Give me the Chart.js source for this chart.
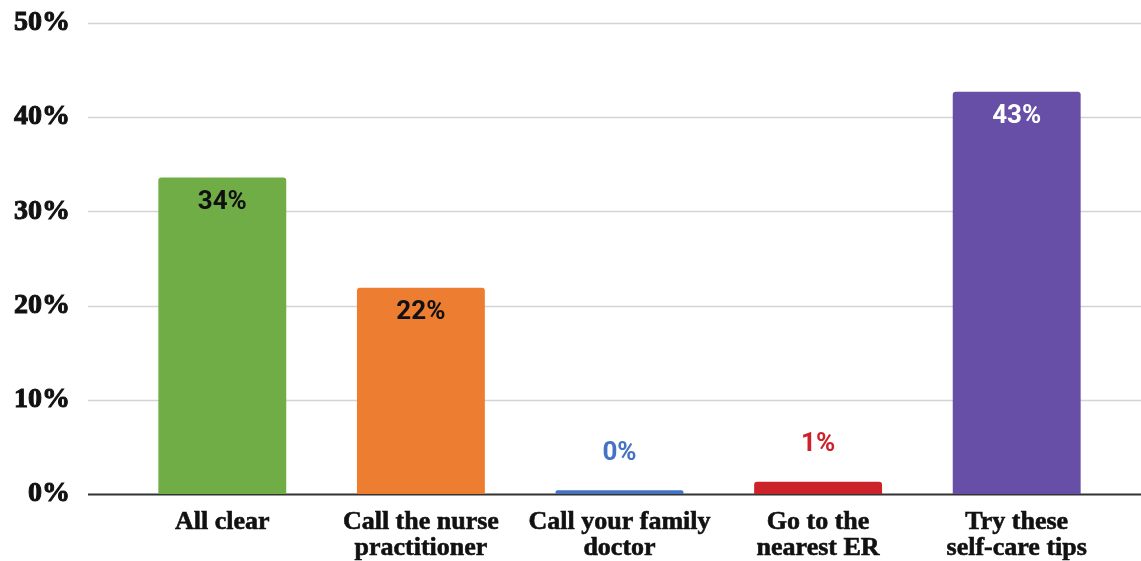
<!DOCTYPE html>
<html>
<head>
<meta charset="utf-8">
<script src="https://cdn.jsdelivr.net/npm/chart.js@4"></script>
<style>
  html, body { margin: 0; padding: 0; background: #fff; }
  #wrap { width: 1141px; height: 561px; position: relative; }
</style>
</head>
<body>
<div id="wrap"><canvas id="chart"></canvas></div>
<script>
// data
const categories = [
  ["All clear"],
  ["Call the nurse", "practitioner"],
  ["Call your family", "doctor"],
  ["Go to the", "nearest ER"],
  ["Try these", "self-care tips"],
];
const shares = [33.6, 21.9, 0.4, 1.3, 42.7];
const barColors = ["#70ad47", "#ed7d31", "#4472c4", "#cc2229", "#674ea7"];
const insideLabelColors = ["#111111", "#111111", null, null, "#ffffff"];
const yTicks = [0, 10, 20, 30, 40, 50];

// grid lines run wider than the category band, so draw them here
const wideGrid = {
  id: "wideGrid",
  beforeDatasetsDraw(chart) {
    const { ctx, scales: { y } } = chart;
    ctx.save();
    yTicks.forEach((t) => {
      const py = Math.round(y.getPixelForValue(t)) + 0.5;
      ctx.beginPath();
      ctx.moveTo(88, py);
      ctx.lineTo(chart.width, py);
      ctx.lineWidth = t === 0 ? 2 : 1.5;
      ctx.strokeStyle = t === 0 ? "#333333" : "#d4d4d4";
      ctx.stroke();
    });
    ctx.restore();
  },
};

// value labels: inside the top for tall bars, above for small ones
const valueLabels = {
  id: "valueLabels",
  afterDatasetsDraw(chart) {
    const { ctx } = chart;
    const meta = chart.getDatasetMeta(0);
    ctx.save();
    ctx.font = "bold 26px Roboto, 'Noto Sans', sans-serif";
    ctx.textAlign = "center";
    ctx.textBaseline = "middle";
    meta.data.forEach((bar, i) => {
      const { x, y } = bar.getProps(["x", "y"], true);
      const txt = Math.round(shares[i]) + "%";
      if (insideLabelColors[i]) {
        ctx.fillStyle = insideLabelColors[i];
        ctx.fillText(txt, x, y + 25);
      } else {
        ctx.fillStyle = barColors[i];
        ctx.fillText(txt, x, y - 37);
      }
    });
    ctx.restore();
  },
};

const serif = "'Liberation Serif', 'DejaVu Serif', serif";

new Chart(document.getElementById("chart"), {
  type: "bar",
  data: {
    labels: categories,
    datasets: [
      {
        data: shares,
        backgroundColor: barColors,
        borderRadius: { topLeft: 3, topRight: 3 },
        borderSkipped: "bottom",
        categoryPercentage: 0.644,
        barPercentage: 1,
      },
    ],
  },
  options: {
    responsive: true,
    maintainAspectRatio: false,
    animation: false,
    layout: { padding: { top: 23, right: 25, left: 13, bottom: 0 } },
    plugins: { legend: { display: false }, tooltip: { enabled: false } },
    scales: {
      y: {
        min: 0,
        max: 50,
        afterFit: (s) => { s.width = 110; },
        ticks: {
          stepSize: 10,
          padding: 0,
          color: "#111",
          textStrokeColor: "#111",
          textStrokeWidth: 1,
          font: { family: serif, weight: "bold", size: 28 },
          callback: (v) => v + "%",
        },
        // tick marks hidden, their length only pushes the labels left
        grid: { display: false, drawTicks: true, tickLength: 53 },
        border: { display: false },
      },
      x: {
        afterFit: (s) => { s.height = 67; },
        ticks: {
          color: "#111",
          padding: 15,
          maxRotation: 0,
          textStrokeColor: "#111",
          textStrokeWidth: 0.6,
          font: { family: serif, weight: "bold", size: 26, lineHeight: 1.0 },
        },
        grid: { display: false, drawTicks: false },
        border: { display: false },
      },
    },
  },
  plugins: [wideGrid, valueLabels],
});
</script>
</body>
</html>
